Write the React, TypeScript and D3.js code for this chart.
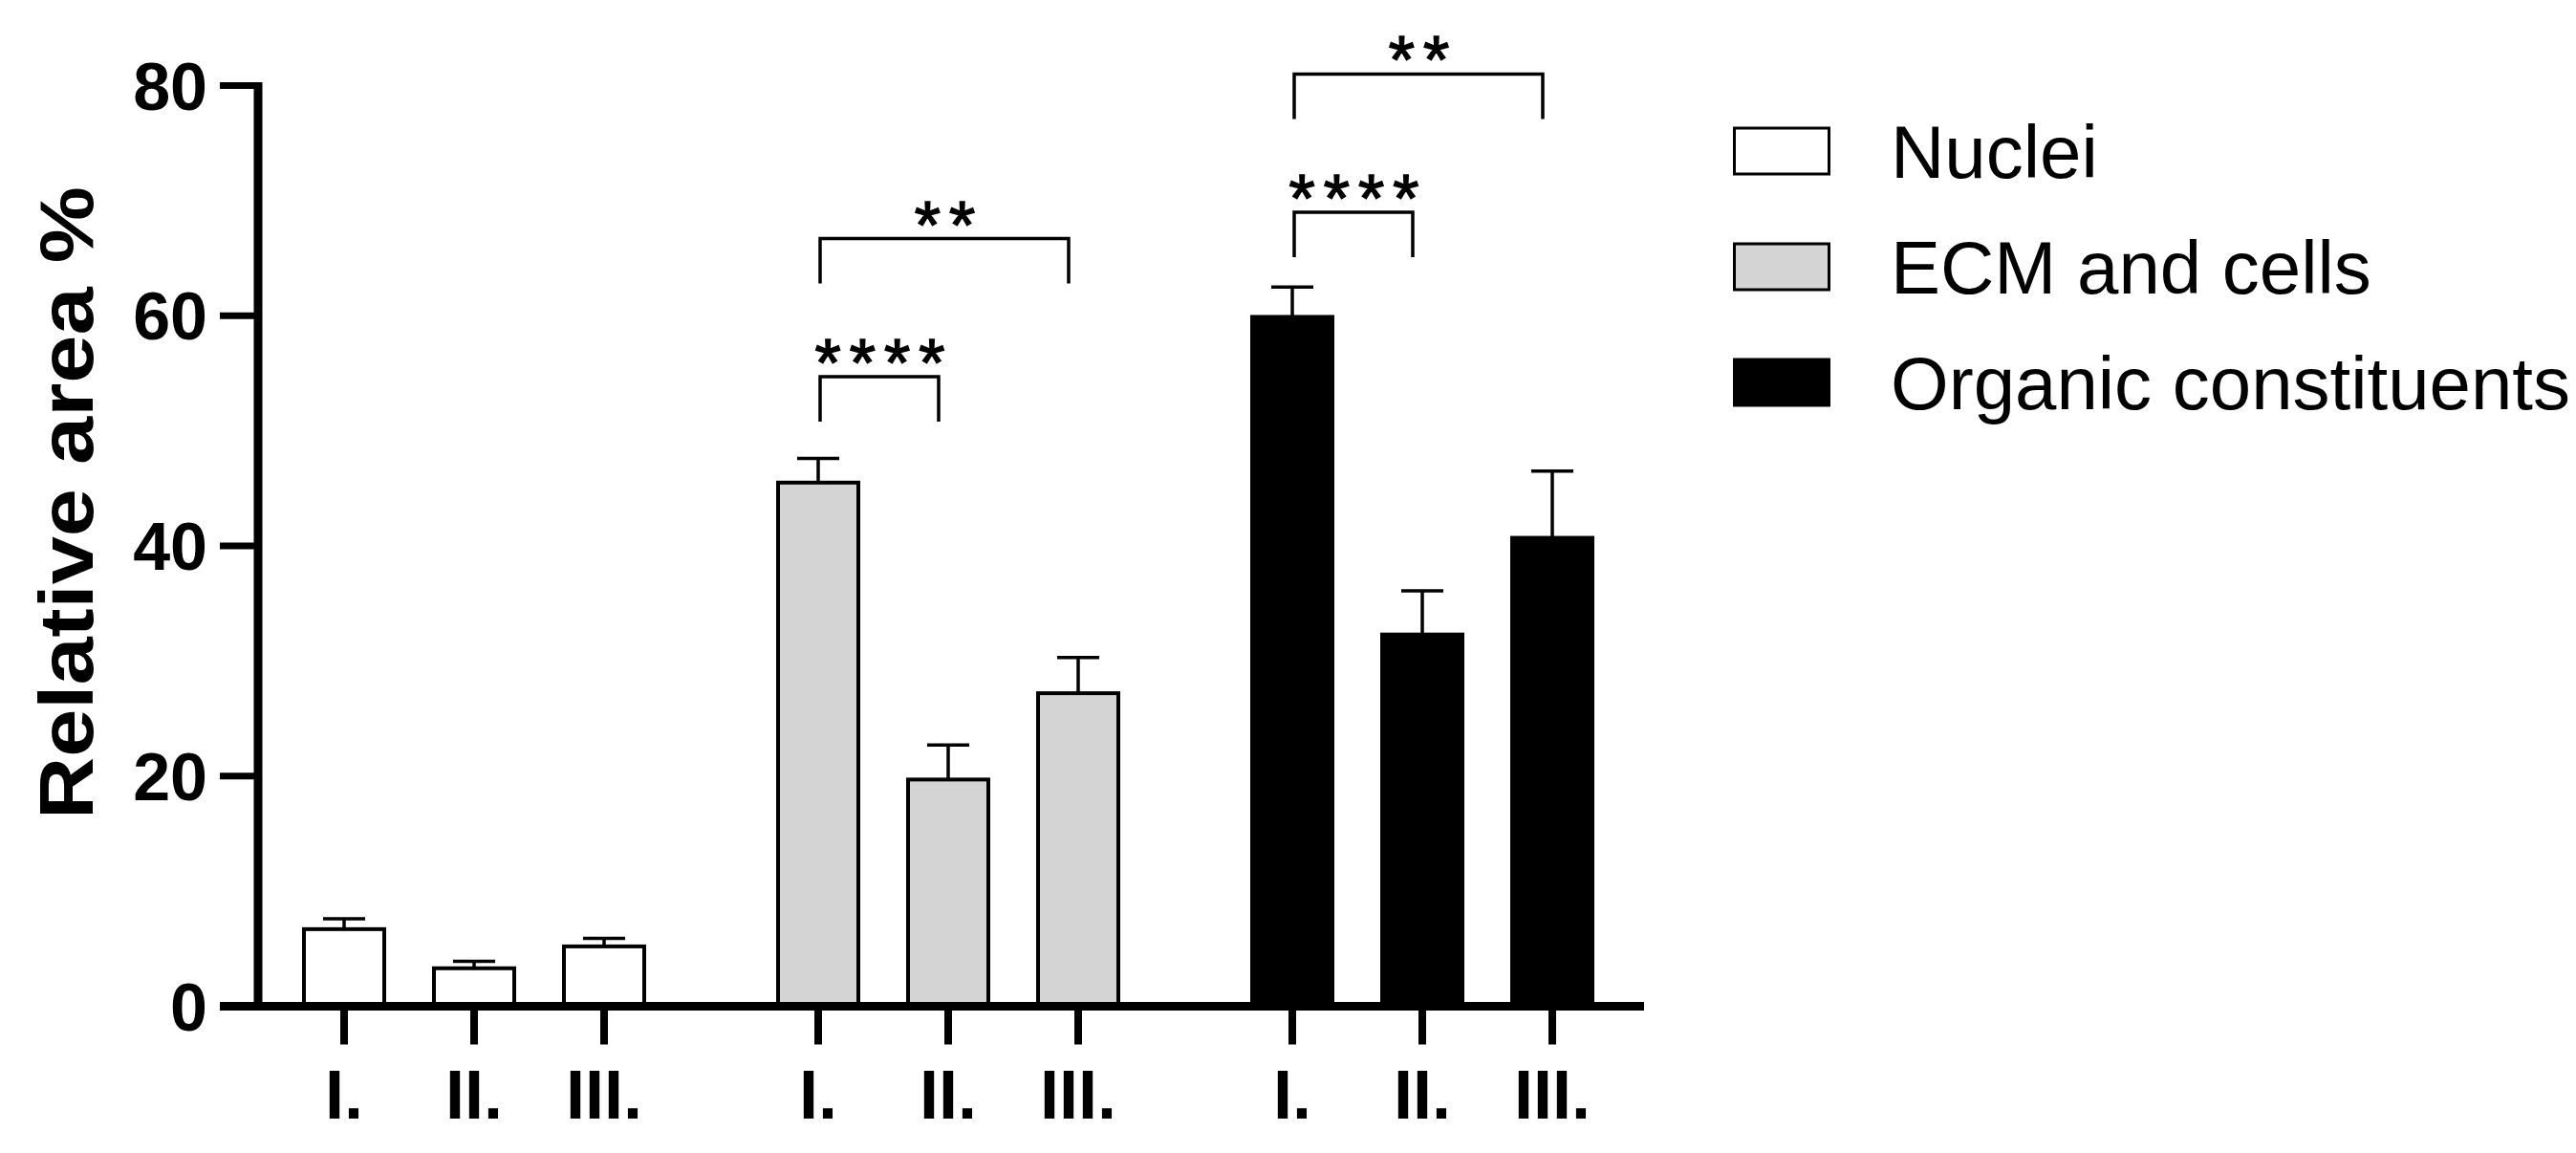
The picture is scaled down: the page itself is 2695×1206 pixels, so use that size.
import React from "react";
import * as d3 from "d3";

const groups = ["Nuclei", "ECM and cells", "Organic constituents"];
const conditions = ["I.", "II.", "III."];
const nucleiMean = [6.7, 3.3, 5.2];
const nucleiSD = [0.9, 0.6, 0.7];
const ecmMean = [45.5, 19.7, 27.2];
const ecmSD = [2.1, 3.0, 3.1];
const organicMean = [59.9, 32.3, 40.7];
const organicSD = [2.6, 3.8, 5.8];
const yTicks = [0, 20, 40, 60, 80];
const fills = ["#ffffff", "#d4d4d4", "#000000"];

// significance brackets: group index, from condition, to condition, label, level (y units)
const compGroup = [1, 1, 2, 2];
const compFrom = [0, 0, 0, 0];
const compTo = [1, 2, 1, 2];
const compLabel = ["****", "**", "****", "**"];
const compLevel = [54.7, 66.7, 69.0, 81.0];

const means = [nucleiMean, ecmMean, organicMean];
const sds = [nucleiSD, ecmSD, organicSD];

const FONT = "'Liberation Sans', Arial, Helvetica, sans-serif";

export default function App() {
  const W = 2695, H = 1206;
  const y = d3.scaleLinear().domain([0, 80]).range([1052.5, 89.5]);
  const gx = d3.scalePoint<number>().domain([0, 1, 2]).range([496, 1488]);
  const ix = d3.scalePoint<string>().domain(conditions).range([-136, 136]);
  const cx = (g: number, i: number) => (gx(g) as number) + (ix(conditions[i]) as number);
  const barW = 84;
  const capW = 44;
  const axisX = 270;
  const axisY = y(0);

  const bars: any[] = [];
  groups.forEach((_, g) => {
    conditions.forEach((c, i) => {
      bars.push({ g, i, c, v: means[g][i], sd: sds[g][i] });
    });
  });

  return (
    <svg width={W} height={H} style={{ position: "absolute", left: 0, top: 0, background: "#fff" }} fontFamily={FONT}>
      <rect x={0} y={0} width={W} height={H} fill="#fff" />
      {/* error bars */}
      {bars.map((b, k) => (
        <g key={"e" + k} stroke="#000" strokeWidth={3.5}>
          <line x1={cx(b.g, b.i)} x2={cx(b.g, b.i)} y1={y(b.v)} y2={y(b.v + b.sd)} />
          <line x1={cx(b.g, b.i) - capW / 2} x2={cx(b.g, b.i) + capW / 2} y1={y(b.v + b.sd)} y2={y(b.v + b.sd)} />
        </g>
      ))}
      {/* bars */}
      {bars.map((b, k) => (
        <rect key={"b" + k} x={cx(b.g, b.i) - barW / 2} y={y(b.v)} width={barW} height={axisY - y(b.v)}
          fill={fills[b.g]} stroke="#000" strokeWidth={4} />
      ))}
      {/* y axis */}
      <line x1={axisX} x2={axisX} y1={y(80) - 3.5} y2={axisY} stroke="#000" strokeWidth={9} />
      {yTicks.map((t) => (
        <g key={"yt" + t}>
          <line x1={230} x2={axisX} y1={y(t)} y2={y(t)} stroke="#000" strokeWidth={7} />
          <text x={217} y={y(t) + 25} textAnchor="end" fontSize={70} fontWeight="bold" fill="#000">{t}</text>
        </g>
      ))}
      {/* x axis */}
      <line x1={230} x2={1720} y1={axisY} y2={axisY} stroke="#000" strokeWidth={9} />
      {bars.map((b, k) => (
        <g key={"xt" + k}>
          <line x1={cx(b.g, b.i)} x2={cx(b.g, b.i)} y1={axisY} y2={axisY + 40} stroke="#000" strokeWidth={8} />
          <text x={cx(b.g, b.i)} y={1170} textAnchor="middle" fontSize={72} fontWeight="bold" fill="#000">{b.c}</text>
        </g>
      ))}
      {/* y title */}
      <text transform={`translate(97, 526) rotate(-90)`} textAnchor="middle" fontSize={80} fontWeight="bold"
        textLength={662} lengthAdjust="spacingAndGlyphs" fill="#000">Relative area %</text>
      {/* significance brackets */}
      {compLabel.map((lab, k) => {
        const x1 = cx(compGroup[k], compFrom[k]) + 2;
        const x2 = cx(compGroup[k], compTo[k]) - 10;
        const yy = y(compLevel[k]);
        return (
          <g key={"c" + k}>
            <path d={`M${x1},${yy + 47}V${yy}H${x2}V${yy + 47}`} fill="none" stroke="#000" strokeWidth={3.5} />
            <text x={(x1 + x2) / 2 + 5} y={yy + 10} textAnchor="middle" fontSize={70} letterSpacing={9}
              fill="#000" stroke="#000" strokeWidth={1.5}>{lab}</text>
          </g>
        );
      })}
      {/* legend */}
      {groups.map((gname, g) => (
        <g key={"l" + g}>
          <rect x={1814.5} y={158 + g * 121 - 24} width={99} height={48} fill={fills[g]} stroke="#000" strokeWidth={3} />
          <text x={1978} y={158 + g * 121 + 28} fontSize={78} fill="#000">{gname}</text>
        </g>
      ))}
    </svg>
  );
}
